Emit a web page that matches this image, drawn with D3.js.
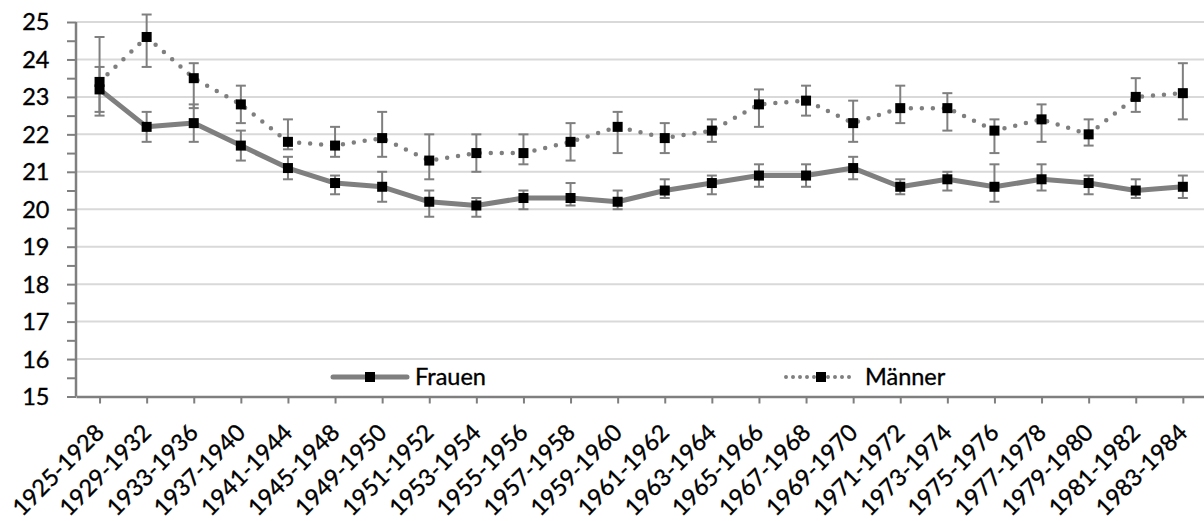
<!DOCTYPE html>
<html lang="de">
<head>
	<meta charset="utf-8">
	<script type="text/javascript" src="https://d3js.org/d3.v7.min.js"></script>
	<style type="text/css">
		body { margin: 0; background: #fff; }
		text { font-family: Lato, "Open Sans", sans-serif; fill: #000; stroke: #000; stroke-width: 0.35px; }
	</style>
</head>
<body>
<script type="text/javascript">
var categories = ["1925-1928","1929-1932","1933-1936","1937-1940","1941-1944","1945-1948",
    "1949-1950","1951-1952","1953-1954","1955-1956","1957-1958","1959-1960","1961-1962",
    "1963-1964","1965-1966","1967-1968","1969-1970","1971-1972","1973-1974","1975-1976",
    "1977-1978","1979-1980","1981-1982","1983-1984"];

var frauen   = [23.2,22.2,22.3,21.7,21.1,20.7,20.6,20.2,20.1,20.3,20.3,20.2,20.5,20.7,20.9,20.9,21.1,20.6,20.8,20.6,20.8,20.7,20.5,20.6];
var frauenHi = [23.8,22.6,22.8,22.1,21.4,20.9,21.0,20.5,20.3,20.5,20.7,20.5,20.8,20.9,21.2,21.2,21.4,20.8,21.0,21.2,21.2,20.9,20.8,20.9];
var frauenLo = [22.6,21.8,21.8,21.3,20.8,20.4,20.2,19.8,19.8,20.0,20.1,20.0,20.3,20.4,20.6,20.6,20.8,20.4,20.5,20.2,20.5,20.4,20.3,20.3];

var maenner   = [23.4,24.6,23.5,22.8,21.8,21.7,21.9,21.3,21.5,21.5,21.8,22.2,21.9,22.1,22.8,22.9,22.3,22.7,22.7,22.1,22.4,22.0,23.0,23.1];
var maennerHi = [24.6,25.2,23.9,23.3,22.4,22.2,22.6,22.0,22.0,22.0,22.3,22.6,22.3,22.4,23.2,23.3,22.9,23.3,23.1,22.4,22.8,22.4,23.5,23.9];
var maennerLo = [22.5,23.8,22.7,22.3,21.6,21.4,21.4,20.8,21.0,21.2,21.3,21.5,21.5,21.8,22.2,22.5,21.8,22.3,22.1,21.5,21.8,21.7,22.6,22.4];

var yTicks = [15,16,17,18,19,20,21,22,23,24,25];
var seriesNames = ["Frauen", "Männer"];

var width = 1204, height = 521;
var grey = "#7f7f7f";
var fontSize = 23.5;

var svg = d3.select("body")
    .append("svg")
    .attr("width", width)
    .attr("height", height);

var x = d3.scalePoint()
    .domain(categories)
    .range([76, 1206.4])
    .padding(0.5);

var y = d3.scaleLinear()
    .domain([15, 25])
    .range([396.5, 22]);

// gridlines
svg.append("g")
    .selectAll("line")
    .data(yTicks.slice(1))
    .enter()
    .append("line")
    .attr("x1", 76).attr("x2", width)
    .attr("y1", function(d) { return y(d); })
    .attr("y2", function(d) { return y(d); })
    .attr("stroke", "#d9d9d9")
    .attr("stroke-width", 2);

// y axis with minor ticks every 0.5
var yAxis = d3.axisLeft(y)
    .tickValues(d3.range(15, 25.01, 0.5))
    .tickSize(9)
    .tickPadding(0)
    .tickFormat("");

var gy = svg.append("g")
    .attr("transform", "translate(76,0)")
    .call(yAxis);
gy.select(".domain").remove();
gy.selectAll("line").attr("stroke", grey).attr("stroke-width", 2);

svg.append("g")
    .selectAll("text")
    .data(yTicks)
    .enter()
    .append("text")
    .attr("x", 49.5)
    .attr("y", function(d) { return y(d); })
    .attr("dy", "0.36em")
    .attr("text-anchor", "end")
    .attr("font-size", fontSize)
    .text(function(d) { return d; });

svg.append("line")
    .attr("x1", 76).attr("x2", 76)
    .attr("y1", y(25)).attr("y2", y(15))
    .attr("stroke", grey)
    .attr("stroke-width", 2.5);

// x axis
var xAxis = d3.axisBottom(x)
    .tickSize(7)
    .tickSizeOuter(0)
    .tickFormat("");

var gx = svg.append("g")
    .attr("transform", "translate(0," + y(15) + ")")
    .call(xAxis);
gx.select(".domain").attr("stroke", grey).attr("stroke-width", 2.5);
gx.selectAll("line").attr("stroke", grey).attr("stroke-width", 2);

svg.append("g")
    .selectAll("text")
    .data(categories)
    .enter()
    .append("text")
    .attr("transform", function(d) {
        return "translate(" + (x(d) + 6) + ",434) rotate(-45)";
    })
    .attr("text-anchor", "end")
    .attr("font-size", fontSize)
    .text(function(d) { return d; });

// error bars
function errorBars(hi, lo) {
    var g = svg.append("g")
        .attr("stroke", grey)
        .attr("stroke-width", 2)
        .attr("fill", "none");
    var bars = g.selectAll("g")
        .data(categories)
        .enter()
        .append("g");
    bars.append("line")
        .attr("x1", function(d) { return x(d); })
        .attr("x2", function(d) { return x(d); })
        .attr("y1", function(d, i) { return y(hi[i]); })
        .attr("y2", function(d, i) { return y(lo[i]); });
    bars.append("line")
        .attr("x1", function(d) { return x(d) - 5; })
        .attr("x2", function(d) { return x(d) + 5; })
        .attr("y1", function(d, i) { return y(hi[i]); })
        .attr("y2", function(d, i) { return y(hi[i]); });
    bars.append("line")
        .attr("x1", function(d) { return x(d) - 5; })
        .attr("x2", function(d) { return x(d) + 5; })
        .attr("y1", function(d, i) { return y(lo[i]); })
        .attr("y2", function(d, i) { return y(lo[i]); });
}

errorBars(frauenHi, frauenLo);
errorBars(maennerHi, maennerLo);

var line = d3.line()
    .x(function(d, i) { return x(categories[i]); })
    .y(function(d) { return y(d); });

svg.append("path")
    .datum(frauen)
    .attr("d", line)
    .attr("fill", "none")
    .attr("stroke", grey)
    .attr("stroke-width", 5)
    .attr("stroke-linejoin", "round");

svg.append("path")
    .datum(maenner)
    .attr("d", line)
    .attr("fill", "none")
    .attr("stroke", grey)
    .attr("stroke-width", 4.5)
    .attr("stroke-linecap", "round")
    .attr("stroke-dasharray", "0 11");

function markers(values) {
    svg.append("g")
        .selectAll("rect")
        .data(values)
        .enter()
        .append("rect")
        .attr("x", function(d, i) { return x(categories[i]) - 5; })
        .attr("y", function(d) { return y(d) - 5; })
        .attr("width", 10)
        .attr("height", 10)
        .attr("fill", "#000");
}

markers(frauen);
markers(maenner);

// legend
var legend = svg.append("g");
var legendY = 377;

legend.append("line")
    .attr("x1", 333).attr("x2", 407)
    .attr("y1", legendY).attr("y2", legendY)
    .attr("stroke", grey)
    .attr("stroke-width", 5)
    .attr("stroke-linecap", "round");
legend.append("rect")
    .attr("x", 365).attr("y", legendY - 5)
    .attr("width", 10).attr("height", 10)
    .attr("fill", "#000");
legend.append("text")
    .attr("x", 415).attr("y", legendY)
    .attr("dy", "0.36em")
    .attr("font-size", fontSize)
    .text(seriesNames[0]);

legend.append("line")
    .attr("x1", 786).attr("x2", 856)
    .attr("y1", legendY).attr("y2", legendY)
    .attr("stroke", grey)
    .attr("stroke-width", 4)
    .attr("stroke-linecap", "round")
    .attr("stroke-dasharray", "0 7");
legend.append("rect")
    .attr("x", 816).attr("y", legendY - 5)
    .attr("width", 10).attr("height", 10)
    .attr("fill", "#000");
legend.append("text")
    .attr("x", 865).attr("y", legendY)
    .attr("dy", "0.36em")
    .attr("font-size", fontSize)
    .text(seriesNames[1]);
</script>
</body>
</html>
